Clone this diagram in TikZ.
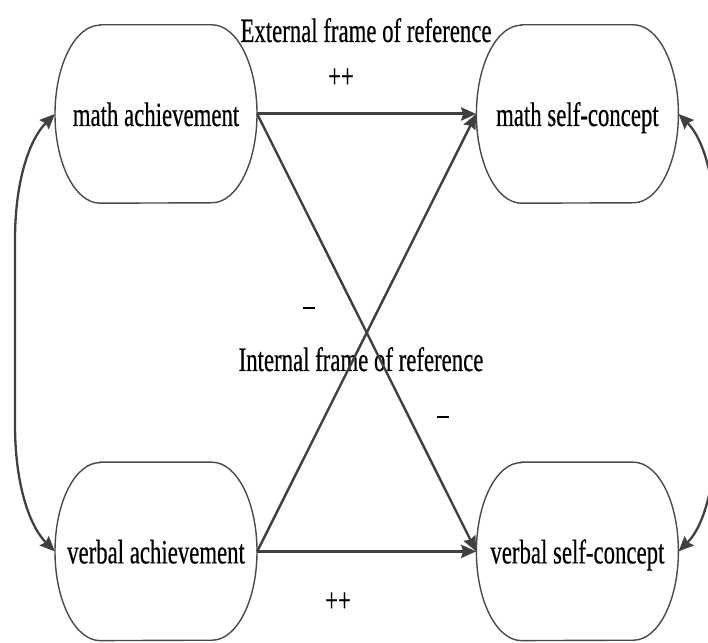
\documentclass[tikz,border=0pt]{standalone}
\usepackage{fontspec}
\setmainfont{Liberation Serif}[FakeStretch=0.67,FakeBold=0.4]
\usetikzlibrary{arrows.meta,positioning}
\definecolor{Ink}{HTML}{404040}
\definecolor{Rim}{HTML}{4A4A4A}
\tikzset{
  construct/.style={minimum width=202pt,minimum height=178pt,inner sep=0pt,
    text height=24pt,text depth=0pt,font=\fontsize{34}{40}\selectfont},
  note/.style={inner sep=0pt,font=\fontsize{34}{40}\selectfont},
  rim/.style={draw=Rim,line width=1.4pt},
  effect/.style={-{Stealth[length=15pt,width=13pt,inset=2pt]},draw=Ink,line width=3pt},
  cross/.style={effect,line width=2.4pt},
  corr/.style={{Stealth[length=15pt,width=13pt,inset=2pt]}-{Stealth[length=15pt,width=13pt,inset=2pt]},
    draw=Ink,line width=2.3pt}
}
\newcommand\pillshape[1]{%
  \draw[rim] ([xshift=-56pt]#1.north) -- ([xshift=56pt]#1.north)
    arc[start angle=90,end angle=-90,x radius=45pt,y radius=89pt]
    -- ([xshift=-56pt]#1.south)
    arc[start angle=270,end angle=90,x radius=45pt,y radius=89pt] -- cycle;}

\begin{document}
\begin{tikzpicture}[x=1pt,y=1pt,node distance=219pt]
  \useasboundingbox (0,0) rectangle (708,642);
  \clip (0,0) rectangle (708,642);
  % constructs
  \node[construct] (ma) at (156,528) {math achievement};
  \node[construct,right=of ma] (ms) {math self-concept};
  \node[construct,below=259pt of ma] (va) {verbal achievement};
  \node[construct,below=259pt of ms] (vs) {verbal self-concept};
  \foreach \n in {ma,ms,va,vs} {\pillshape{\n}}
  % labels
  \node[note,anchor=base] (extlabel) at (366,600) {External frame of reference};
  \node[note,anchor=base] (intlabel) at (361,271) {Internal frame of reference};
  \node[note] (ppup) at (341,564) {++};
  \node[note] (ppdown) at (338,40) {++};
  \node[note,anchor=base] (mnup) at (309,326) {--};
  \node[note,anchor=base] (mndown) at (443,217) {--};
  % paths
  \draw[effect] (ma.east) -- (ms.west);
  \draw[effect] (va.east) -- (vs.west);
  \draw[cross] (ma.east) -- (vs.west);
  \draw[cross] (va.east) -- (ms.west);
  % correlations
  \coordinate (lt) at (15,402); \coordinate (lb) at (15,217);
  \coordinate (rt) at (716,402); \coordinate (rb) at (716,217);
  \draw[corr] (ma.west) .. controls +(-25,-25) and +(0,60) .. (lt) -- (lb)
    .. controls +(0,-60) and +(-25,25) .. (va.west);
  \draw[corr] (ms.east) .. controls +(25,-25) and +(0,60) .. (rt) -- (rb)
    .. controls +(0,-60) and +(25,25) .. (vs.east);
\end{tikzpicture}
\end{document}
